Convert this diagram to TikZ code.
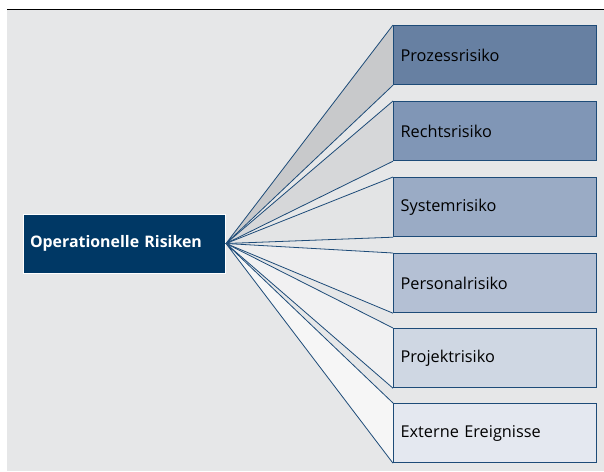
\documentclass[tikz,border=0pt]{standalone}
\usepackage{fontspec}
\setmainfont{Open Sans}
\definecolor{bg}{HTML}{E6E7E8}
\definecolor{navy}{HTML}{003865}
\definecolor{edge}{HTML}{1D4B78}
\definecolor{bA}{HTML}{6780A2}
\definecolor{bB}{HTML}{8096B6}
\definecolor{bC}{HTML}{9AABC5}
\definecolor{bD}{HTML}{B4C0D4}
\definecolor{bE}{HTML}{CFD7E3}
\definecolor{bF}{HTML}{E4E8F0}
\definecolor{wA}{HTML}{C8C9CB}
\definecolor{wB}{HTML}{D6D7D9}
\definecolor{wC}{HTML}{E3E4E5}
\definecolor{wD}{HTML}{EDEDEE}
\definecolor{wE}{HTML}{F1F1F2}
\definecolor{wF}{HTML}{F6F6F6}
\tikzset{
  riskbox/.style={draw=edge, line width=1.2pt, minimum width=203pt, minimum height=59pt,
    text width=189pt, align=left, inner sep=0pt, font=\fontsize{16.3}{18}\selectfont, anchor=north west},
  wedge/.style={draw=edge, line width=0.8pt, line join=round},
}
\begin{document}
\begin{tikzpicture}[x=1pt,y=-1pt]
\useasboundingbox (0,0) rectangle (604,471);
\fill[bg] (7,10) rectangle (604,471);
\draw[black, line width=0.9pt] (7,9.5) -- (604,9.5);
\node[fill=navy, draw=white, line width=0.8pt, minimum width=202pt, minimum height=59pt,
  text width=188pt, align=left, inner sep=0pt, text=white,
  font=\bfseries\fontsize{15.9}{18}\selectfont] (main) at (124,243.5) {Operationelle Risiken};
\coordinate (apex) at (226,243.5);
\foreach \n/\y/\bf/\wf/\t in {1/25/bA/wA/Prozessrisiko, 2/101/bB/wB/Rechtsrisiko, 3/177/bC/wC/Systemrisiko,
  4/253/bD/wD/Personalrisiko, 5/328/bE/wE/Projektrisiko, 6/403/bF/wF/Externe Ereignisse}{
  \node[riskbox, fill=\bf] (r\n) at (393,\y) {\t};
  \fill[\wf] (apex) -- (r\n.north west) -- (r\n.south west) -- cycle;
  \draw[wedge] (r\n.south west) -- (apex) -- (r\n.north west);
  \node[riskbox, fill=\bf] at (393,\y) {\t};
}
\end{tikzpicture}
\end{document}
